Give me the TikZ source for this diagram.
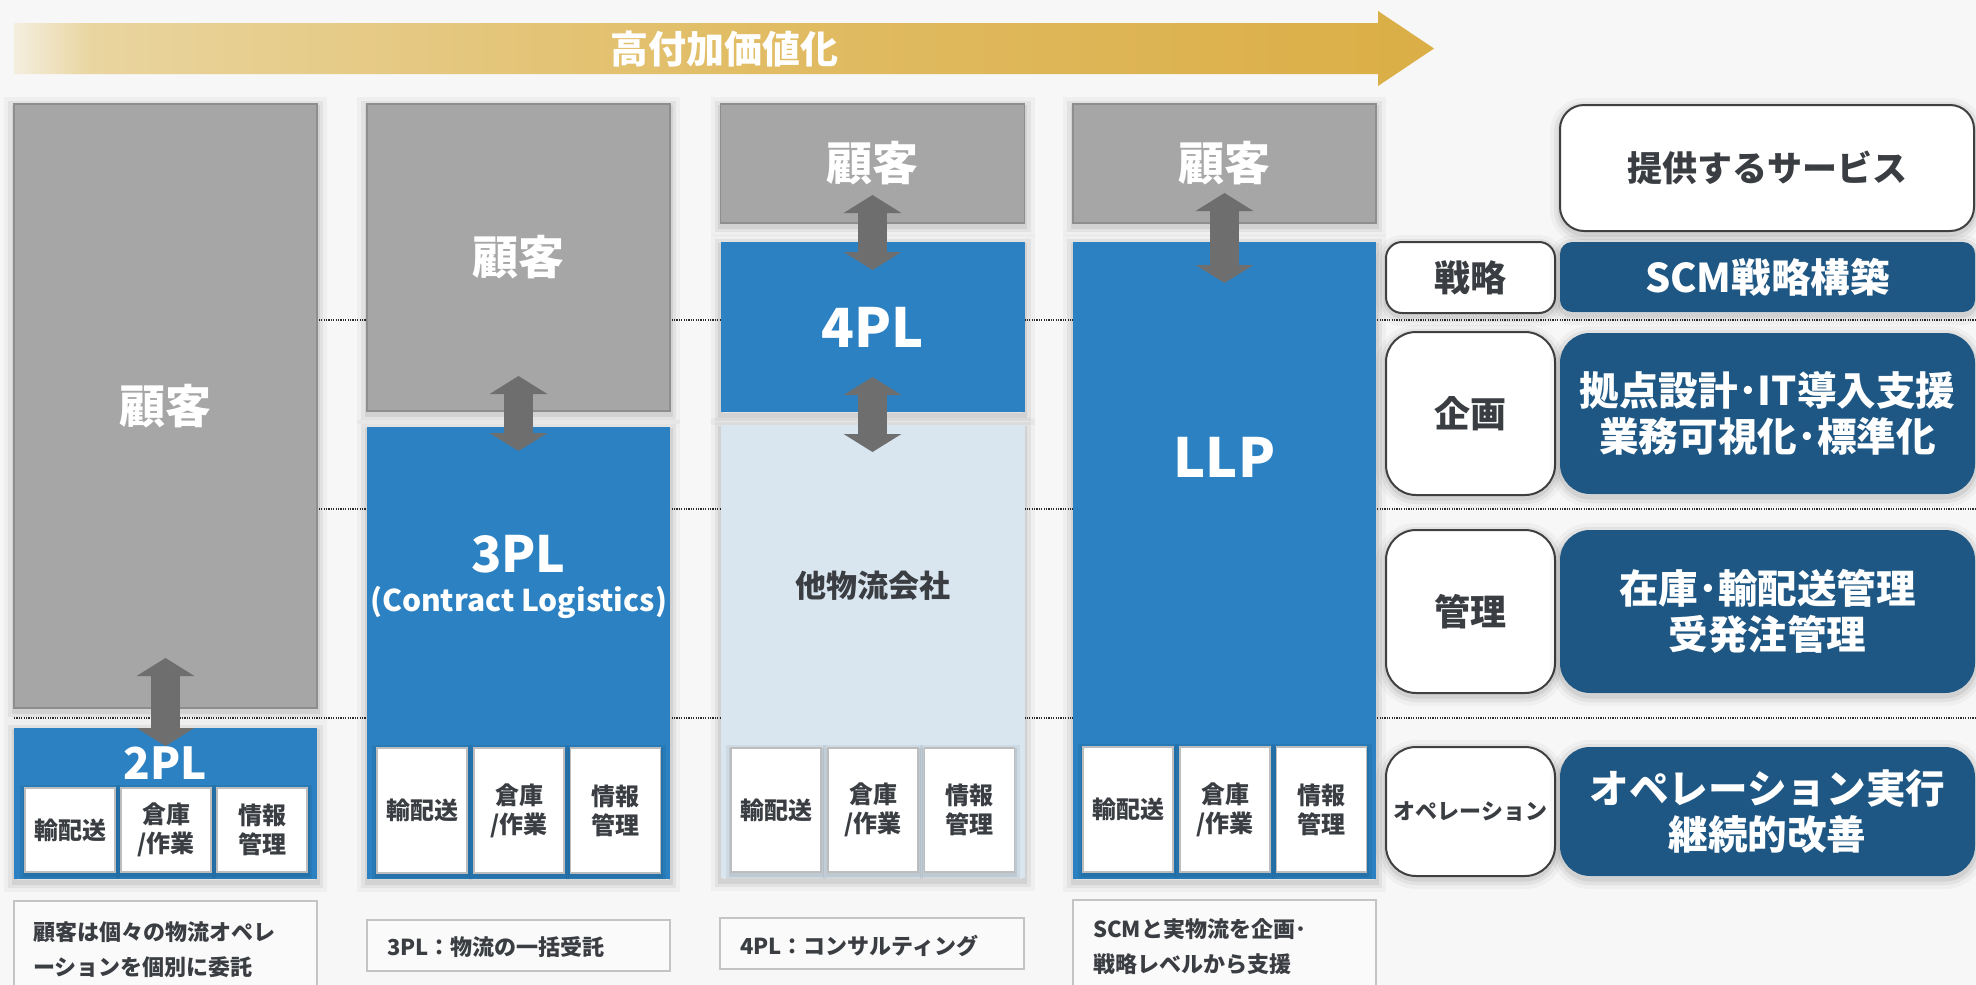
\documentclass[tikz,border=0pt]{standalone}
\usepackage{fontspec}
\setmainfont{Noto Sans CJK JP}
\usetikzlibrary{arrows.meta,calc}
\definecolor{bgc}{HTML}{F7F7F7}
\definecolor{grayfill}{HTML}{A6A6A6}
\definecolor{grayedge}{HTML}{8E8E8E}
\definecolor{bluefill}{HTML}{2B81C1}
\definecolor{lightblue}{HTML}{D9E6F0}
\definecolor{arrowgray}{HTML}{6E6E6E}
\definecolor{darkblue}{HTML}{1E5783}
\definecolor{txtdark}{HTML}{3A3D42}
\definecolor{subedge}{HTML}{BDBDBD}
\definecolor{capedge}{HTML}{C4C4C4}
\definecolor{capfill}{HTML}{FAFAFA}
\definecolor{dotc}{HTML}{2E2E2E}
\definecolor{labedge}{HTML}{404040}
\definecolor{gA}{HTML}{F4EEDF}
\definecolor{gB}{HTML}{E9D5A0}
\definecolor{gC}{HTML}{E8D196}
\definecolor{gD}{HTML}{E1BD66}
\definecolor{gE}{HTML}{DBAE46}
\pgfdeclarehorizontalshading{goldshade}{100bp}{color(0bp)=(gA); color(25bp)=(gA); color(27.7bp)=(gB); color(31bp)=(gC); color(50bp)=(gD); color(75bp)=(gE); color(100bp)=(gE)}
\begin{document}
\begin{tikzpicture}[x=0.5pt,y=-0.5pt,
  wh/.style 2 args={minimum width=#1*0.5pt,minimum height=#2*0.5pt},
  base/.style={inner sep=0pt,outer sep=0pt,rectangle},
  shad/.style={preaction={draw=black,draw opacity=0.03,line width=10pt,transform canvas={yshift=-1.5pt}},
               preaction={draw=black,draw opacity=0.05,line width=6pt,transform canvas={yshift=-1.5pt}},
               preaction={draw=black,draw opacity=0.07,line width=2.5pt,transform canvas={yshift=-1.5pt}}},
  smallshad/.style={preaction={draw=black,draw opacity=0.05,line width=5pt,transform canvas={yshift=-1pt}},
               preaction={draw=black,draw opacity=0.07,line width=2.5pt,transform canvas={yshift=-1pt}}},
  graybox/.style={base,shad,fill=grayfill,draw=grayedge,line width=0.6pt,text=white,font=\bfseries\fontsize{23}{28}\selectfont},
  bluebox/.style={base,shad,fill=bluefill,text=white,font=\bfseries\fontsize{27}{32}\selectfont},
  ltbox/.style={base,shad,fill=lightblue},
  whitetitle/.style={base,text=white,font=\bfseries\fontsize{#1}{#1}\selectfont},
  subbox/.style={base,smallshad,fill=white,draw=subedge,line width=0.6pt,text=txtdark,align=center,font=\bfseries\fontsize{12}{14.5}\selectfont},
  capbox/.style={base,fill=capfill,draw=capedge,line width=0.8pt},
  captxt/.style={base,text=txtdark,anchor=west,align=left,font=\bfseries\fontsize{11}{17.5}\selectfont},
  labbox/.style={base,shad,fill=white,draw=labedge,line width=1pt,text=txtdark,font=\bfseries\fontsize{18}{22}\selectfont},
  rbox/.style={base,shad,fill=darkblue,text=white,align=center,font=\bfseries\fontsize{19.8}{23}\selectfont},
  blockarrow/.style={draw=arrowgray,line width=14.5pt,{Triangle[width=28.5pt,length=9pt]}-{Triangle[width=28.5pt,length=9pt]}},
  guide/.style={draw=dotc,line width=0.9pt,dash pattern=on 0.6pt off 0.6pt}
]
\clip (0,0) rectangle (1976,985);
\fill[bgc] (0,0) rectangle (1976,985);

% top gradient arrow
\shade[shading=goldshade] (14,23) -- (1378,23) -- (1378,11) -- (1434,48.5) -- (1378,86) -- (1378,74) -- (14,74) -- cycle;
\node[whitetitle=19] (valtitle) at (724,49) {高付加価値化};

% dotted guide lines
\coordinate (gl1a) at (14,320); \coordinate (gl1b) at (1976,320);
\coordinate (gl2a) at (14,509); \coordinate (gl2b) at (1976,509);
\coordinate (gl3a) at (14,718); \coordinate (gl3b) at (1976,718);
\draw[guide] (gl1a) -- (gl1b);
\draw[guide] (gl2a) -- (gl2b);
\draw[guide] (gl3a) -- (gl3b);

% ===== column 1 : 2PL =====
\node[graybox,wh={303}{604}] (g1) at (165.5,406) {顧客};
\node[bluebox,wh={303}{151}] (b2) at (165.5,803.5) {};
\draw[blockarrow] ($(g1.south)+(0,-50)$) -- ($(b2.north)+(0,18)$);
\node[whitetitle=22] (t2) at (165.5,763) {2PL};
\node[subbox,wh={90}{84}] (s11) at (70,830) {輸配送};
\node[subbox,wh={90}{84}] (s12) at (166,830) {倉庫\\/作業};
\node[subbox,wh={90}{84}] (s13) at (262,830) {情報\\管理};

% ===== column 2 : 3PL =====
\node[graybox,wh={303}{307}] (g2) at (518.5,257.5) {顧客};
\node[bluebox,wh={303}{452}] (b3) at (518.5,653) {};
\draw[blockarrow] ($(g2.south)+(0,-35)$) -- ($(b3.north)+(0,24)$);
\node[whitetitle=25] (t3a) at (518.5,554) {3PL};
\node[whitetitle=15] (t3b) at (518.5,602) {(Contract Logistics)};
\node[subbox,wh={90}{125}] (s21) at (422,810.5) {輸配送};
\node[subbox,wh={90}{125}] (s22) at (519,810.5) {倉庫\\/作業};
\node[subbox,wh={90}{125}] (s23) at (615.5,810.5) {情報\\管理};

% ===== column 3 : 4PL =====
\node[graybox,wh={304}{119}] (g3) at (872.5,163.5) {顧客};
\node[bluebox,wh={304}{170}] (b4) at (872.5,327) {4PL};
\node[ltbox,wh={304}{453}] (lb) at (872.5,651.5) {};
\draw[blockarrow] ($(g3.south)+(0,-28)$) -- ($(b4.north)+(0,28)$);
\draw[blockarrow] ($(b4.south)+(0,-35)$) -- ($(lb.north)+(0,27)$);
\node[base,text=txtdark,font=\bfseries\fontsize{15.5}{18}\selectfont] (tl) at (872.5,586) {他物流会社};
\node[subbox,wh={90}{124}] (s31) at (776,810) {輸配送};
\node[subbox,wh={90}{124}] (s32) at (873,810) {倉庫\\/作業};
\node[subbox,wh={90}{124}] (s33) at (969.5,810) {情報\\管理};

% ===== column 4 : LLP =====
\node[graybox,wh={303}{119}] (g4) at (1224.5,163.5) {顧客};
\node[bluebox,wh={303}{637}] (bL) at (1224.5,560.5) {};
\draw[blockarrow] ($(g4.south)+(0,-30)$) -- ($(bL.north)+(0,41)$);
\node[whitetitle=27] (tL) at (1224.5,457) {LLP};
\node[subbox,wh={90}{125}] (s41) at (1128,809.5) {輸配送};
\node[subbox,wh={90}{125}] (s42) at (1225,809.5) {倉庫\\/作業};
\node[subbox,wh={90}{125}] (s43) at (1321.5,809.5) {情報\\管理};

% ===== captions =====
\node[capbox,wh={303}{110}] (c1) at (165.5,956) {};
\node[captxt] (c1t) at (33,949.5) {顧客は個々の物流オペレ\\ーションを個別に委託};
\node[capbox,wh={303}{51}] (c2) at (518.5,945.5) {};
\node[captxt] (c2t) at (387,947) {3PL：物流の一括受託};
\node[capbox,wh={304}{51}] (c3) at (872,943.5) {};
\node[captxt] (c3t) at (740,946) {4PL：コンサルティング};
\node[capbox,wh={303}{110}] (c4) at (1224.5,955) {};
\node[captxt] (c4t) at (1093,946.5) {SCMと実物流を企画･\\戦略レベルから支援};

% ===== right panel =====
\node[labbox,rounded corners=12pt,wh={414}{126},font=\bfseries\fontsize{17.5}{20}\selectfont] (svc) at (1767,168) {提供するサービス};
\node[labbox,rounded corners=8pt,wh={169}{71}] (l1) at (1470.5,277.5) {戦略};
\node[rbox,rounded corners=6pt,wh={415}{70}] (r1) at (1767.5,277) {SCM戦略構築};
\node[labbox,rounded corners=15pt,wh={169}{163}] (l2) at (1470.5,413.5) {企画};
\node[rbox,rounded corners=15pt,wh={415}{161}] (r2) at (1767.5,413.5) {拠点設計･IT導入支援\\業務可視化･標準化};
\node[labbox,rounded corners=15pt,wh={169}{163}] (l3) at (1470.5,611.5) {管理};
\node[rbox,rounded corners=15pt,wh={415}{163}] (r3) at (1767.5,611.5) {在庫･輸配送管理\\受発注管理};
\node[labbox,rounded corners=15pt,wh={169}{129},font=\bfseries\fontsize{11}{13}\selectfont] (l4) at (1470.5,811.5) {オペレーション};
\node[rbox,rounded corners=15pt,wh={415}{129}] (r4) at (1767.5,811.5) {オペレーション実行\\継続的改善};
\end{tikzpicture}
\end{document}
